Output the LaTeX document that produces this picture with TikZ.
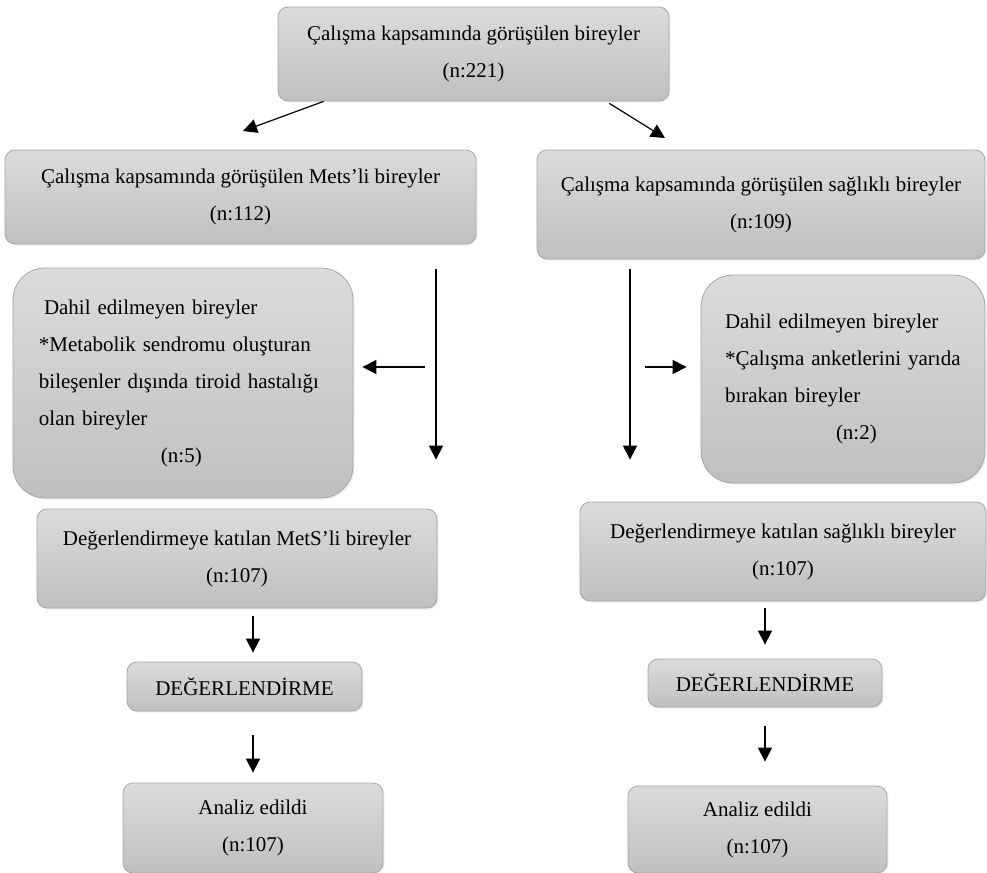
\documentclass[tikz,border=0pt]{standalone}
\usepackage{fontspec}
\setmainfont{Liberation Serif}
\usetikzlibrary{arrows.meta,shadows}

\begin{document}
\begin{tikzpicture}[x=0.5pt,y=-0.5pt,
  box/.style={draw=gray!70, top color=gray!28, bottom color=gray!50,
    rounded corners=5pt, inner sep=0pt, align=center,
    drop shadow={opacity=0.12,shadow xshift=0.8pt,shadow yshift=-0.8pt},
    font=\fontsize{10.5}{18.5}\selectfont},
  bigbox/.style={box, rounded corners=16pt, align=left},
  arr/.style={-{Triangle[length=7pt,width=7pt]}, line width=0.6pt}]

  \useasboundingbox (0,0) rectangle (987,873);

  % Top box: all interviewed
  \node[box, minimum width=195.5pt, minimum height=47pt] (top) at (473.5,54)
    {Çalışma kapsamında görüşülen bireyler\\(n:221)};

  % Second row: MetS and healthy groups
  \node[box, minimum width=235.5pt, minimum height=47pt] (metsL) at (240.5,197)
    {Çalışma kapsamında görüşülen Mets’li bireyler\\(n:112)};
  \node[box, minimum width=224pt, minimum height=54.5pt] (saglR) at (761,204.5)
    {Çalışma kapsamında görüşülen sağlıklı bireyler\\(n:109)};

  % Excluded individuals
  \node[bigbox, text width=144pt, minimum width=170pt, minimum height=115pt] (exL) at (183,383)
    {\hspace*{2.5pt}Dahil edilmeyen bireyler\\
     \makebox[144pt][s]{*Metabolik sendromu oluşturan}\\
     bileşenler dışında tiroid hastalığı\\
     olan bireyler\\
     \hspace*{61pt}(n:5)};
  \node[bigbox, text width=118pt, minimum width=142pt, minimum height=104pt] (exR) at (843,379)
    {Dahil edilmeyen bireyler\\
     {}*Çalışma anketlerini yarıda\\
     bırakan bireyler\\
     \hspace*{55.5pt}(n:2)};

  % Third row: evaluated individuals
  \node[box, minimum width=200pt, minimum height=49.5pt] (degBoxL) at (237,558.5)
    {Değerlendirmeye katılan MetS’li bireyler\\(n:107)};
  \node[box, minimum width=203pt, minimum height=49.5pt] (degBoxR) at (783,551.5)
    {Değerlendirmeye katılan sağlıklı bireyler\\(n:107)};

  % Evaluation
  \node[box, minimum width=117.5pt, minimum height=24.5pt] (evalL) at (244.5,686.5) {DEĞERLENDİRME};
  \node[box, minimum width=117pt, minimum height=24pt] (evalR) at (765,683) {DEĞERLENDİRME};

  % Analysis
  \node[box, minimum width=130pt, minimum height=45pt] (anL) at (253,828)
    {Analiz edildi\\(n:107)};
  \node[box, minimum width=129.5pt, minimum height=43.5pt] (anR) at (757.5,829.5)
    {Analiz edildi\\(n:107)};

  % Split arrows from the top box
  \coordinate (tipL) at (243,131);
  \coordinate (tipR) at (665,138);
  \draw[arr] ([xshift=23pt]top.south west) -- (tipL);
  \draw[arr] ([xshift=-30pt,yshift=-1pt]top.south east) -- (tipR);

  % Long vertical arrows and exclusion arrows
  \coordinate (splitL) at (436,367);
  \coordinate (splitR) at (630,367);
  \draw[arr, shorten <=12.5pt, shorten >=24.5pt] (splitL |- metsL.south) -- (splitL |- degBoxL.north);
  \draw[arr, shorten <=5.5pt, shorten >=4.5pt] (splitL) -- (splitL -| exL.east);
  \draw[arr, shorten <=5pt, shorten >=21pt] (splitR |- saglR.south) -- (splitR |- degBoxR.north);
  \draw[arr, shorten <=7.5pt, shorten >=7pt] (splitR) -- (splitR -| exR.west);

  % Short arrows down to the analysis
  \draw[arr, shorten <=4pt, shorten >=4.5pt] (degBoxL.south -| anL) -- (evalL.north -| anL);
  \draw[arr, shorten <=12pt, shorten >=5pt] (evalL.south -| anL) -- (anL.north);
  \draw[arr, shorten <=3.5pt, shorten >=7pt] (degBoxR.south -| evalR) -- (evalR.north);
  \draw[arr, shorten <=9.5pt, shorten >=12pt] (evalR.south) -- (evalR.south |- anR.north);

\end{tikzpicture}
\end{document}
